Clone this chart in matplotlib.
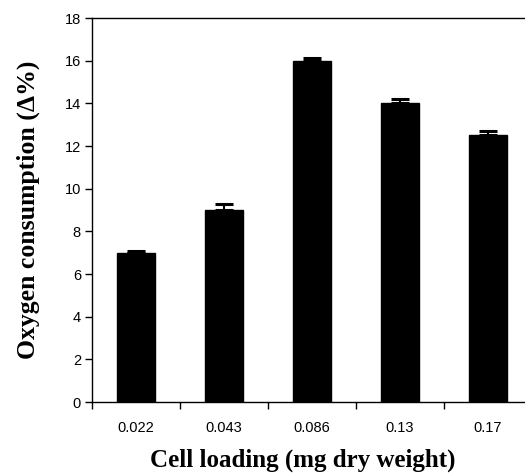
import numpy as np
import matplotlib
matplotlib.use("Agg")
import matplotlib.pyplot as plt
from matplotlib.ticker import FixedLocator

# data
loadings = ["0.022", "0.043", "0.086", "0.13", "0.17"]
consumption = [7.0, 9.0, 16.0, 14.0, 12.5]
errors = [0.1, 0.27, 0.12, 0.2, 0.2]

fig = plt.figure(figsize=(5.25, 4.75), dpi=100)
ax = fig.add_axes([92 / 525, 73 / 475, 440 / 525, 384 / 475])

x = np.arange(len(loadings))
ax.bar(x, consumption, width=0.43, color="black", edgecolor="black",
       yerr=[np.zeros(len(errors)), errors],
       error_kw=dict(ecolor="black", elinewidth=1.5, capsize=6.5, capthick=2.2))

ax.set_xlim(-0.5, len(loadings) - 0.5)
ax.set_ylim(0, 18)
ax.set_yticks(range(0, 19, 2))

ax.set_xticks(x)
ax.set_xticklabels(loadings)
ax.xaxis.set_minor_locator(FixedLocator(np.arange(-0.5, len(loadings), 1.0)))
ax.tick_params(axis="x", which="major", length=0, pad=14)
ax.tick_params(axis="x", which="minor", length=5, width=1, direction="out")
ax.tick_params(axis="y", length=5, width=1, direction="out", pad=3)

for lab in ax.get_xticklabels() + ax.get_yticklabels():
    lab.set_fontfamily("Liberation Sans")
    lab.set_fontsize(10.5)

ax.spines["right"].set_visible(False)
for s in ["left", "bottom", "top"]:
    ax.spines[s].set_linewidth(1.0)

ax.set_xlabel("Cell loading (mg dry weight)", fontfamily="Liberation Serif",
              fontweight="bold", fontsize=18)
ax.xaxis.set_label_coords(0.48, -0.151)
ax.xaxis.label.set_verticalalignment("center")
ax.set_ylabel("Oxygen consumption (\u0394%)", fontfamily="Liberation Serif",
              fontweight="bold", fontsize=18.5, labelpad=18)

fig.savefig("out.png", dpi=100)
